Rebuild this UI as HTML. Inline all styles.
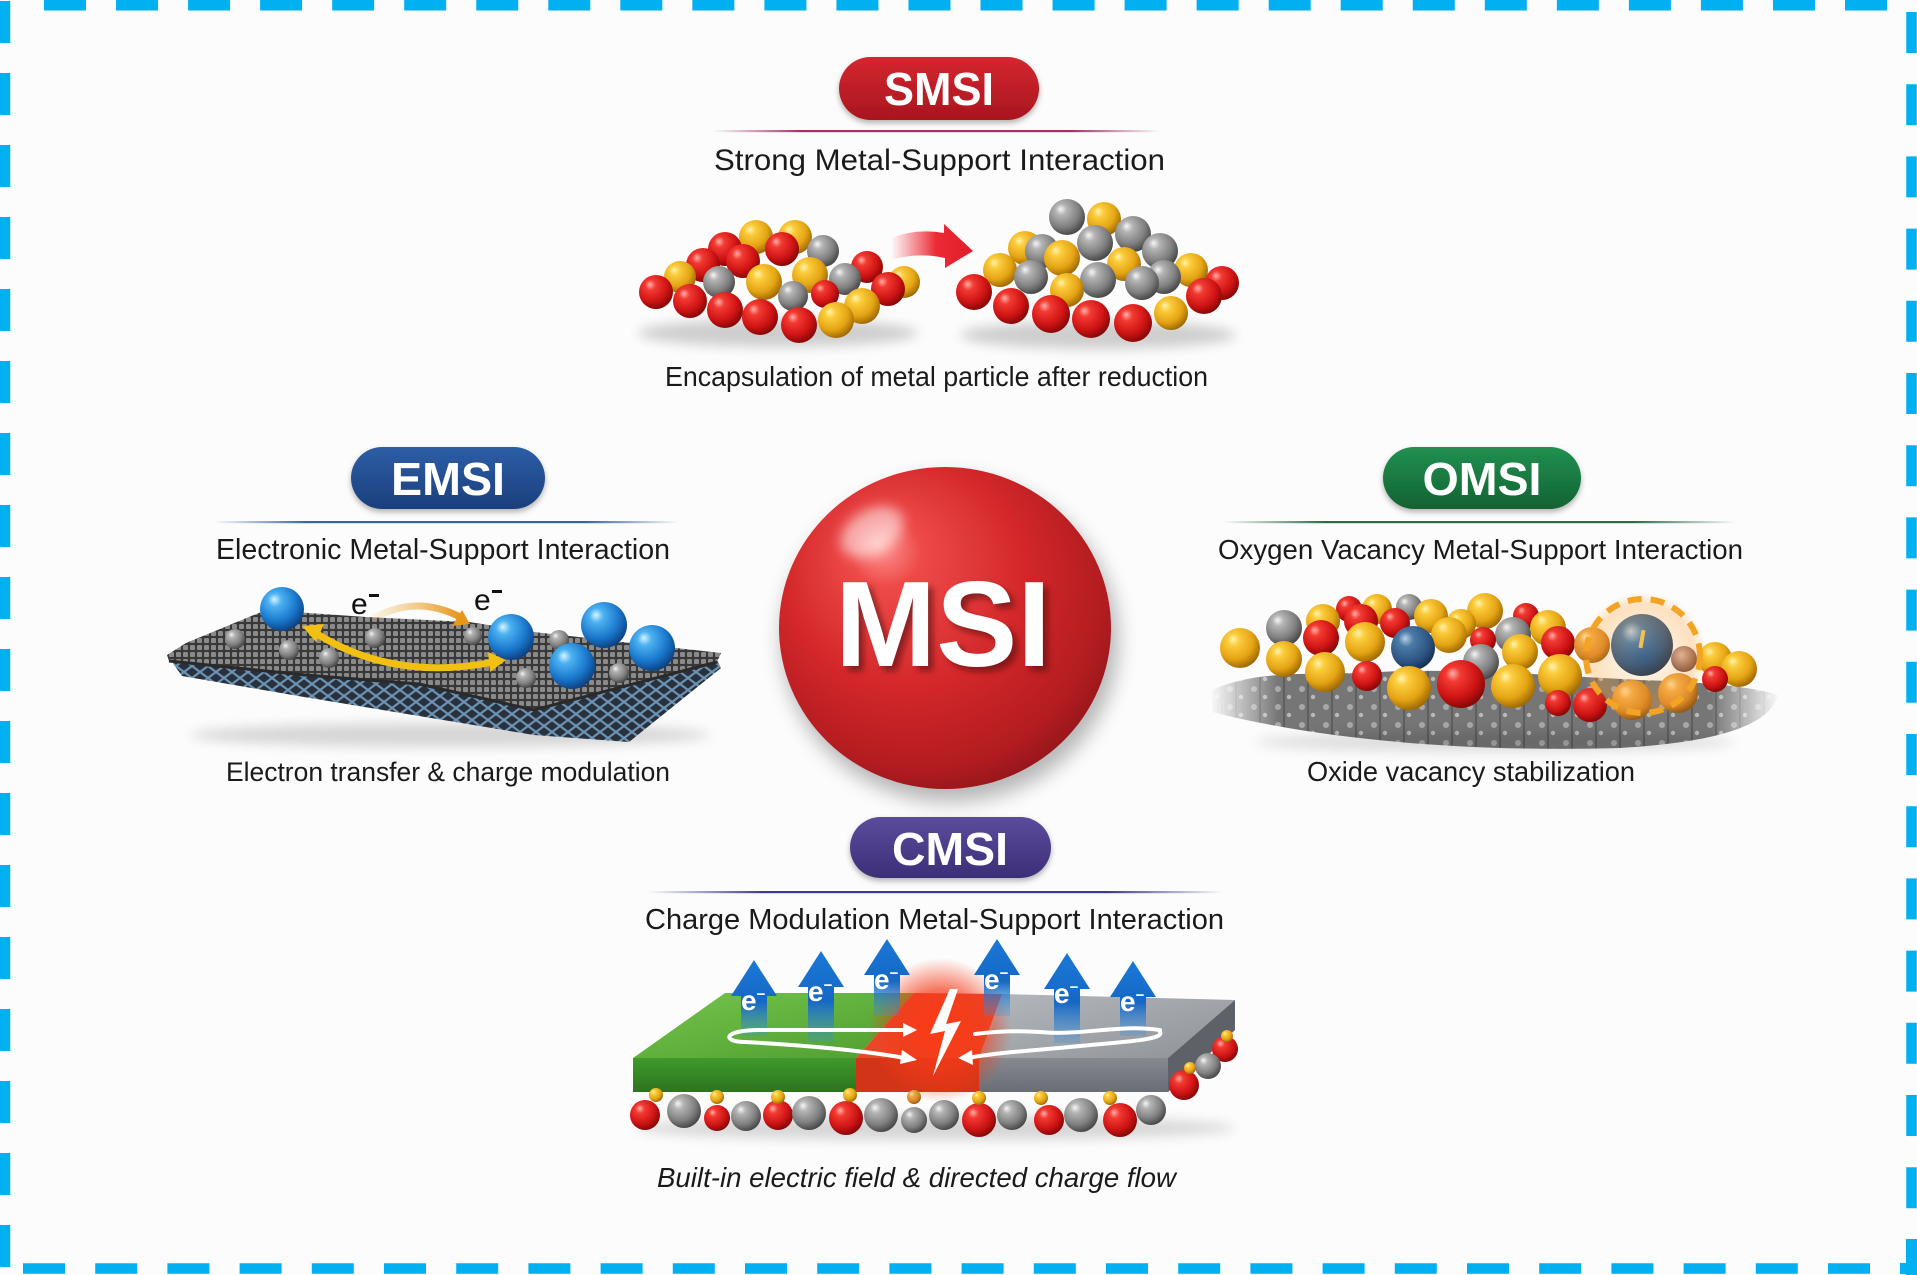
<!DOCTYPE html>
<html><head><meta charset="utf-8">
<style>
html,body{margin:0;padding:0;background:#fcfcfc;width:1917px;height:1275px;overflow:hidden}
svg{display:block}
text{font-family:"Liberation Sans",Arial,sans-serif}
</style></head><body>
<svg width="1917" height="1275" viewBox="0 0 1917 1275" xmlns="http://www.w3.org/2000/svg">
<defs>
<radialGradient id="gR" cx="0.4" cy="0.35" r="0.7" fx="0.32" fy="0.28"><stop offset="0" stop-color="#ffb0a8"/><stop offset="0.22" stop-color="#f23a32"/><stop offset="0.65" stop-color="#cf1414"/><stop offset="1" stop-color="#7a0505"/></radialGradient>
<radialGradient id="gG" cx="0.4" cy="0.35" r="0.7" fx="0.32" fy="0.28"><stop offset="0" stop-color="#fff3b0"/><stop offset="0.22" stop-color="#fbcc3c"/><stop offset="0.65" stop-color="#e4a414"/><stop offset="1" stop-color="#946000"/></radialGradient>
<radialGradient id="gS" cx="0.4" cy="0.35" r="0.7" fx="0.32" fy="0.28"><stop offset="0" stop-color="#f6f6f6"/><stop offset="0.22" stop-color="#b4b4b4"/><stop offset="0.65" stop-color="#808080"/><stop offset="1" stop-color="#3e3e3e"/></radialGradient>
<radialGradient id="gB" cx="0.4" cy="0.35" r="0.7" fx="0.32" fy="0.28"><stop offset="0" stop-color="#d8f4ff"/><stop offset="0.22" stop-color="#4cb2f2"/><stop offset="0.65" stop-color="#1a78cc"/><stop offset="1" stop-color="#0a3a78"/></radialGradient>
<radialGradient id="gN" cx="0.4" cy="0.35" r="0.7" fx="0.32" fy="0.28"><stop offset="0" stop-color="#b8d0e8"/><stop offset="0.25" stop-color="#4c7aa8"/><stop offset="0.7" stop-color="#2c5482"/><stop offset="1" stop-color="#142a48"/></radialGradient>
<radialGradient id="gO" cx="0.4" cy="0.35" r="0.7" fx="0.32" fy="0.28"><stop offset="0" stop-color="#ffe2a8"/><stop offset="0.25" stop-color="#f0aa48"/><stop offset="0.7" stop-color="#d48424"/><stop offset="1" stop-color="#8a5010"/></radialGradient>
<radialGradient id="gBr" cx="0.4" cy="0.35" r="0.7"><stop offset="0" stop-color="#d8b8b0"/><stop offset="0.6" stop-color="#946c68"/><stop offset="1" stop-color="#5a3c3a"/></radialGradient>
<radialGradient id="sph" cx="0.44" cy="0.4" r="0.66" fx="0.3" fy="0.24"><stop offset="0" stop-color="#ff9a96"/><stop offset="0.16" stop-color="#ee4a48"/><stop offset="0.55" stop-color="#d3272a"/><stop offset="0.85" stop-color="#b21c20"/><stop offset="1" stop-color="#8a1418"/></radialGradient>
<linearGradient id="pR" x1="0" y1="0" x2="0" y2="1"><stop offset="0" stop-color="#d42630"/><stop offset="1" stop-color="#a8161e"/></linearGradient>
<linearGradient id="pB" x1="0" y1="0" x2="0" y2="1"><stop offset="0" stop-color="#2d5ea6"/><stop offset="1" stop-color="#1b3f7c"/></linearGradient>
<linearGradient id="pG" x1="0" y1="0" x2="0" y2="1"><stop offset="0" stop-color="#219050"/><stop offset="1" stop-color="#136232"/></linearGradient>
<linearGradient id="pP" x1="0" y1="0" x2="0" y2="1"><stop offset="0" stop-color="#5c4c9c"/><stop offset="1" stop-color="#3c2e78"/></linearGradient>
<linearGradient id="lR" x1="0" x2="1"><stop offset="0" stop-color="#a0306a" stop-opacity="0"/><stop offset="0.2" stop-color="#a0306a"/><stop offset="0.8" stop-color="#a0306a"/><stop offset="1" stop-color="#a0306a" stop-opacity="0"/></linearGradient>
<linearGradient id="lB" x1="0" x2="1"><stop offset="0" stop-color="#3a64a0" stop-opacity="0"/><stop offset="0.2" stop-color="#3a64a0"/><stop offset="0.8" stop-color="#3a64a0"/><stop offset="1" stop-color="#3a64a0" stop-opacity="0"/></linearGradient>
<linearGradient id="lG" x1="0" x2="1"><stop offset="0" stop-color="#2e6a48" stop-opacity="0"/><stop offset="0.2" stop-color="#2e6a48"/><stop offset="0.8" stop-color="#2e6a48"/><stop offset="1" stop-color="#2e6a48" stop-opacity="0"/></linearGradient>
<linearGradient id="lP" x1="0" x2="1"><stop offset="0" stop-color="#3a3c92" stop-opacity="0"/><stop offset="0.2" stop-color="#3a3c92"/><stop offset="0.8" stop-color="#3a3c92"/><stop offset="1" stop-color="#3a3c92" stop-opacity="0"/></linearGradient>
<linearGradient id="arrR" x1="0" x2="1"><stop offset="0" stop-color="#f03a44" stop-opacity="0"/><stop offset="0.55" stop-color="#ec2a34"/><stop offset="1" stop-color="#e01e2a"/></linearGradient>
<linearGradient id="arrO" x1="0" x2="1"><stop offset="0" stop-color="#f0b040" stop-opacity="0.1"/><stop offset="1" stop-color="#e8961c"/></linearGradient>
<linearGradient id="blueA" x1="0" y1="0" x2="0" y2="1"><stop offset="0" stop-color="#1a78d8"/><stop offset="0.55" stop-color="#1668c4"/><stop offset="1" stop-color="#3a90e0" stop-opacity="0.25"/></linearGradient>
<linearGradient id="grTop" x1="0" y1="0" x2="1" y2="1"><stop offset="0" stop-color="#74c44c"/><stop offset="1" stop-color="#4f9e30"/></linearGradient>
<linearGradient id="grFr" x1="0" y1="0" x2="0" y2="1"><stop offset="0" stop-color="#3f9a2c"/><stop offset="1" stop-color="#2c741e"/></linearGradient>
<linearGradient id="gyTop" x1="0" y1="0" x2="1" y2="1"><stop offset="0" stop-color="#b4b8bc"/><stop offset="1" stop-color="#8e9398"/></linearGradient>
<linearGradient id="gyFr" x1="0" y1="0" x2="0" y2="1"><stop offset="0" stop-color="#868a90"/><stop offset="1" stop-color="#6a6e74"/></linearGradient>
<radialGradient id="glow" cx="0.5" cy="0.5" r="0.5"><stop offset="0" stop-color="#ff3a14" stop-opacity="0.95"/><stop offset="0.55" stop-color="#f43a18" stop-opacity="0.7"/><stop offset="1" stop-color="#f43a18" stop-opacity="0"/></radialGradient>
<radialGradient id="oglow" cx="0.5" cy="0.5" r="0.5"><stop offset="0" stop-color="#ffb040" stop-opacity="0.05"/><stop offset="0.8" stop-color="#ffa030" stop-opacity="0.3"/><stop offset="1" stop-color="#ffa030" stop-opacity="0"/></radialGradient>
<pattern id="mesh" width="7" height="7" patternUnits="userSpaceOnUse"><rect width="7" height="7" fill="#383838"/><rect x="1" y="1" width="5" height="5" rx="1.3" fill="#8a8a8a"/></pattern>
<pattern id="latt" width="16" height="12" patternUnits="userSpaceOnUse"><rect width="16" height="12" fill="#28313c"/><path d="M0 6 L8 0 L16 6 L8 12 Z" fill="none" stroke="#6c92b4" stroke-width="2.2"/></pattern>
<pattern id="rock" width="24" height="18" patternUnits="userSpaceOnUse"><rect width="24" height="18" fill="#767676"/><circle cx="6" cy="5" r="3" fill="#a8a8a8"/><circle cx="17" cy="13" r="2.2" fill="#b8b8b8"/><rect x="11" y="0" width="2" height="18" fill="#5e5e5e"/></pattern>
<linearGradient id="fadeX" x1="0" x2="1"><stop offset="0" stop-color="#fff" stop-opacity="0"/><stop offset="0.12" stop-color="#fff"/><stop offset="0.88" stop-color="#fff"/><stop offset="1" stop-color="#fff" stop-opacity="0"/></linearGradient>
<mask id="mfade" maskUnits="userSpaceOnUse" x="1200" y="640" width="590" height="120"><rect x="1210" y="640" width="570" height="120" fill="url(#fadeX)"/></mask>
<filter id="b6" x="-30%" y="-80%" width="160%" height="260%"><feGaussianBlur stdDeviation="6"/></filter>
<filter id="b3" x="-20%" y="-20%" width="140%" height="140%"><feGaussianBlur stdDeviation="3"/></filter>
<filter id="b10" x="-30%" y="-30%" width="160%" height="160%"><feGaussianBlur stdDeviation="10"/></filter>
<filter id="ds" x="-10%" y="-20%" width="120%" height="160%"><feDropShadow dx="0" dy="3" stdDeviation="3" flood-color="#000" flood-opacity="0.3"/></filter>
</defs>

<rect width="1917" height="1275" fill="#fcfcfc"/>

<!-- dashed border -->
<g stroke="#00b0f0" stroke-width="10.5" fill="none">
<line x1="44" y1="5.25" x2="1900" y2="5.25" stroke-dasharray="42 30.04"/>
<line x1="5" y1="1" x2="5" y2="1268" stroke-dasharray="42 30"/>
<line x1="1911.5" y1="12" x2="1911.5" y2="1236" stroke-dasharray="41 31.2"/>
<line x1="23" y1="1268.5" x2="1870" y2="1268.5" stroke-dasharray="42 30.2"/>
</g>
<rect x="1906" y="1239" width="11" height="36" fill="#00b0f0"/>
<rect x="1900" y="1263" width="17" height="11" fill="#00b0f0"/>

<!-- ===== SMSI ===== -->
<rect x="839" y="57" width="200" height="63" rx="31.5" fill="url(#pR)" filter="url(#ds)"/>
<text x="939" y="105" font-size="46" font-weight="bold" fill="#fff" text-anchor="middle" textLength="110" lengthAdjust="spacingAndGlyphs">SMSI</text>
<rect x="713" y="130" width="447" height="2.2" fill="url(#lR)"/>
<text x="714" y="170" font-size="30" fill="#1a1a1a" textLength="451" lengthAdjust="spacingAndGlyphs">Strong Metal-Support Interaction</text>

<ellipse cx="778" cy="333" rx="140" ry="14" fill="#000" opacity="0.18" filter="url(#b6)"/>
<ellipse cx="1098" cy="335" rx="138" ry="14" fill="#000" opacity="0.18" filter="url(#b6)"/>
<g>
<circle cx="756" cy="237" r="17" fill="url(#gG)"/>
<circle cx="795" cy="237" r="17" fill="url(#gG)"/>
<circle cx="725" cy="249" r="17" fill="url(#gR)"/>
<circle cx="782" cy="249" r="17" fill="url(#gR)"/>
<circle cx="823" cy="251" r="16" fill="url(#gS)"/>
<circle cx="743" cy="261" r="17" fill="url(#gR)"/>
<circle cx="703" cy="265" r="17" fill="url(#gR)"/>
<circle cx="867" cy="267" r="16" fill="url(#gR)"/>
<circle cx="810" cy="275" r="18" fill="url(#gG)"/>
<circle cx="680" cy="277" r="16" fill="url(#gG)"/>
<circle cx="845" cy="279" r="16" fill="url(#gS)"/>
<circle cx="719" cy="282" r="16" fill="url(#gS)"/>
<circle cx="764" cy="282" r="18" fill="url(#gG)"/>
<circle cx="904" cy="282" r="16" fill="url(#gG)"/>
<circle cx="888" cy="289" r="17" fill="url(#gR)"/>
<circle cx="656" cy="292" r="17" fill="url(#gR)"/>
<circle cx="825" cy="294" r="14" fill="url(#gR)"/>
<circle cx="793" cy="296" r="15" fill="url(#gS)"/>
<circle cx="690" cy="301" r="17" fill="url(#gR)"/>
<circle cx="862" cy="306" r="18" fill="url(#gG)"/>
<circle cx="725" cy="310" r="18" fill="url(#gR)"/>
<circle cx="760" cy="317" r="18" fill="url(#gR)"/>
<circle cx="836" cy="320" r="18" fill="url(#gG)"/>
<circle cx="799" cy="325" r="18" fill="url(#gR)"/>
</g>
<path d="M891,238 Q916,228 944,233 L944,224 L973,251 L945,268 L945,258 Q918,252 891,260 Z" fill="url(#arrR)"/>
<g>
<circle cx="1067" cy="217" r="18" fill="url(#gS)"/>
<circle cx="1104" cy="219" r="17" fill="url(#gG)"/>
<circle cx="1133" cy="234" r="18" fill="url(#gS)"/>
<circle cx="1095" cy="243" r="18" fill="url(#gS)"/>
<circle cx="1025" cy="248" r="17" fill="url(#gG)"/>
<circle cx="1042" cy="251" r="17" fill="url(#gS)"/>
<circle cx="1160" cy="251" r="18" fill="url(#gS)"/>
<circle cx="1062" cy="258" r="18" fill="url(#gG)"/>
<circle cx="1124" cy="264" r="17" fill="url(#gG)"/>
<circle cx="1000" cy="270" r="17" fill="url(#gG)"/>
<circle cx="1191" cy="270" r="17" fill="url(#gG)"/>
<circle cx="1031" cy="277" r="17" fill="url(#gS)"/>
<circle cx="1164" cy="277" r="17" fill="url(#gS)"/>
<circle cx="1098" cy="280" r="18" fill="url(#gS)"/>
<circle cx="1142" cy="283" r="17" fill="url(#gS)"/>
<circle cx="1222" cy="283" r="17" fill="url(#gR)"/>
<circle cx="1067" cy="290" r="17" fill="url(#gG)"/>
<circle cx="974" cy="292" r="18" fill="url(#gR)"/>
<circle cx="1204" cy="296" r="18" fill="url(#gR)"/>
<circle cx="1011" cy="306" r="18" fill="url(#gR)"/>
<circle cx="1171" cy="313" r="17" fill="url(#gG)"/>
<circle cx="1051" cy="314" r="19" fill="url(#gR)"/>
<circle cx="1091" cy="319" r="19" fill="url(#gR)"/>
<circle cx="1133" cy="323" r="19" fill="url(#gR)"/>
</g>
<text x="665" y="386" font-size="28" fill="#1a1a1a" textLength="543" lengthAdjust="spacingAndGlyphs">Encapsulation of metal particle after reduction</text>

<!-- ===== MSI sphere ===== -->
<ellipse cx="950" cy="640" rx="168" ry="162" fill="#000" opacity="0.28" filter="url(#b10)"/>
<ellipse cx="945" cy="628" rx="166" ry="161" fill="url(#sph)"/>
<ellipse cx="872" cy="532" rx="34" ry="22" fill="#fff" opacity="0.55" filter="url(#b6)" transform="rotate(-30 872 532)"/>
<text x="948" y="671" font-size="122" font-weight="bold" fill="#4a0808" opacity="0.55" text-anchor="middle" textLength="216" lengthAdjust="spacingAndGlyphs" filter="url(#b3)">MSI</text>
<text x="943" y="666" font-size="122" font-weight="bold" fill="#fff" text-anchor="middle" textLength="216" lengthAdjust="spacingAndGlyphs">MSI</text>

<!-- ===== EMSI ===== -->
<rect x="351" y="447" width="194" height="62" rx="31" fill="url(#pB)" filter="url(#ds)"/>
<text x="448" y="495" font-size="46" font-weight="bold" fill="#fff" text-anchor="middle" textLength="114" lengthAdjust="spacingAndGlyphs">EMSI</text>
<rect x="214" y="521" width="465" height="2.2" fill="url(#lB)"/>
<text x="216" y="559" font-size="29" fill="#1a1a1a" textLength="454" lengthAdjust="spacingAndGlyphs">Electronic Metal-Support Interaction</text>

<ellipse cx="450" cy="735" rx="260" ry="12" fill="#000" opacity="0.15" filter="url(#b6)"/>
<polygon points="172,662 305,676 419,685 534,710 717,660 721,668 629,742 534,735 304,697 182,676" fill="url(#latt)"/>
<polygon points="167,655 186,643 266,610 366,617 469,622 534,632 721,653 717,662 534,710 419,684 305,675 169,661" fill="url(#mesh)"/>
<polyline points="169,661 305,675 419,684 534,710 717,662" fill="none" stroke="#2a2a2a" stroke-width="3"/>
<g>
<circle cx="235" cy="639" r="10" fill="url(#gS)"/>
<circle cx="289" cy="650" r="10" fill="url(#gS)"/>
<circle cx="375" cy="638" r="10" fill="url(#gS)"/>
<circle cx="329" cy="658" r="10" fill="url(#gS)"/>
<circle cx="473" cy="636" r="9" fill="url(#gS)"/>
<circle cx="559" cy="640" r="10" fill="url(#gS)"/>
<circle cx="526" cy="678" r="10" fill="url(#gS)"/>
<circle cx="619" cy="673" r="10" fill="url(#gS)"/>
<circle cx="282" cy="609" r="22" fill="url(#gB)"/>
<circle cx="604" cy="625" r="23" fill="url(#gB)"/>
<circle cx="511" cy="637" r="23" fill="url(#gB)"/>
<circle cx="652" cy="648" r="23" fill="url(#gB)"/>
<circle cx="572" cy="666" r="23" fill="url(#gB)"/>
</g>
<path d="M372,619 Q416,594 460,617" fill="none" stroke="url(#arrO)" stroke-width="7"/>
<polygon points="470,624 452,626 462,610" fill="#e8961c"/>
<path d="M314,632 Q392,682 494,662" fill="none" stroke="#f2c010" stroke-width="7"/>
<polygon points="302,626 324,624 316,642" fill="#f2c010"/>
<polygon points="506,660 488,652 490,672" fill="#f2c010"/>
<text x="351" y="614" font-size="30" fill="#111">e</text>
<rect x="369" y="594" width="10" height="3" fill="#111"/>
<text x="474" y="610" font-size="30" fill="#111">e</text>
<rect x="492" y="590" width="10" height="3" fill="#111"/>
<text x="226" y="781" font-size="27" fill="#1a1a1a" textLength="444" lengthAdjust="spacingAndGlyphs">Electron transfer &amp; charge modulation</text>

<!-- ===== OMSI ===== -->
<rect x="1383" y="447" width="198" height="62" rx="31" fill="url(#pG)" filter="url(#ds)"/>
<text x="1482" y="495" font-size="46" font-weight="bold" fill="#fff" text-anchor="middle" textLength="119" lengthAdjust="spacingAndGlyphs">OMSI</text>
<rect x="1223" y="521" width="513" height="2.2" fill="url(#lG)"/>
<text x="1218" y="559" font-size="28" fill="#1a1a1a" textLength="525" lengthAdjust="spacingAndGlyphs">Oxygen Vacancy Metal-Support Interaction</text>

<g mask="url(#mfade)">
<path d="M1212,690 C1260,668 1320,676 1380,672 C1460,668 1560,676 1640,680 C1700,682 1750,686 1778,695 C1770,725 1720,742 1620,748 C1480,752 1330,742 1212,712 Z" fill="url(#rock)"/>
</g>
<ellipse cx="1495" cy="742" rx="240" ry="10" fill="#000" opacity="0.12" filter="url(#b6)"/>
<g>
<circle cx="1409" cy="607" r="13" fill="url(#gS)"/>
<circle cx="1349" cy="609" r="13" fill="url(#gR)"/>
<circle cx="1377" cy="609" r="15" fill="url(#gG)"/>
<circle cx="1485" cy="611" r="18" fill="url(#gG)"/>
<circle cx="1431" cy="616" r="17" fill="url(#gG)"/>
<circle cx="1526" cy="616" r="13" fill="url(#gR)"/>
<circle cx="1323" cy="621" r="17" fill="url(#gG)"/>
<circle cx="1361" cy="621" r="17" fill="url(#gR)"/>
<circle cx="1395" cy="623" r="15" fill="url(#gR)"/>
<circle cx="1461" cy="624" r="15" fill="url(#gG)"/>
<circle cx="1284" cy="628" r="18" fill="url(#gS)"/>
<circle cx="1548" cy="628" r="18" fill="url(#gG)"/>
<circle cx="1513" cy="635" r="18" fill="url(#gS)"/>
<circle cx="1449" cy="635" r="18" fill="url(#gG)"/>
<circle cx="1321" cy="638" r="18" fill="url(#gR)"/>
<circle cx="1483" cy="640" r="13" fill="url(#gR)"/>
<circle cx="1365" cy="642" r="20" fill="url(#gG)"/>
<circle cx="1558" cy="643" r="17" fill="url(#gR)"/>
<circle cx="1592" cy="645" r="18" fill="url(#gO)"/>
<circle cx="1240" cy="648" r="20" fill="url(#gG)"/>
<circle cx="1413" cy="648" r="22" fill="url(#gN)"/>
<circle cx="1520" cy="652" r="18" fill="url(#gG)"/>
<circle cx="1684" cy="659" r="13" fill="url(#gBr)"/>
<circle cx="1715" cy="659" r="17" fill="url(#gG)"/>
<circle cx="1284" cy="659" r="18" fill="url(#gG)"/>
<circle cx="1481" cy="662" r="18" fill="url(#gS)"/>
<circle cx="1739" cy="669" r="18" fill="url(#gG)"/>
<circle cx="1642" cy="645" r="31" fill="url(#gN)"/>
<circle cx="1325" cy="672" r="20" fill="url(#gG)"/>
<circle cx="1367" cy="676" r="15" fill="url(#gR)"/>
<circle cx="1560" cy="676" r="22" fill="url(#gG)"/>
<circle cx="1715" cy="679" r="13" fill="url(#gR)"/>
<circle cx="1461" cy="684" r="24" fill="url(#gR)"/>
<circle cx="1513" cy="686" r="22" fill="url(#gG)"/>
<circle cx="1409" cy="688" r="22" fill="url(#gG)"/>
<circle cx="1678" cy="693" r="20" fill="url(#gO)"/>
<circle cx="1632" cy="700" r="20" fill="url(#gO)"/>
<circle cx="1558" cy="703" r="13" fill="url(#gR)"/>
<circle cx="1590" cy="705" r="17" fill="url(#gR)"/>
</g>
<circle cx="1643" cy="656" r="64" fill="url(#oglow)"/>
<circle cx="1643" cy="656" r="57" fill="none" stroke="#f4a424" stroke-width="6" stroke-dasharray="14 9"/>
<rect x="1640" y="630" width="4" height="18" fill="#f4c050" transform="rotate(10 1642 639)"/>
<text x="1307" y="781" font-size="28" fill="#1a1a1a" textLength="328" lengthAdjust="spacingAndGlyphs">Oxide vacancy stabilization</text>

<!-- ===== CMSI ===== -->
<rect x="850" y="817" width="201" height="61" rx="30.5" fill="url(#pP)" filter="url(#ds)"/>
<text x="950" y="865" font-size="46" font-weight="bold" fill="#fff" text-anchor="middle" textLength="116" lengthAdjust="spacingAndGlyphs">CMSI</text>
<rect x="648" y="891" width="575" height="2.2" fill="url(#lP)"/>
<text x="645" y="929" font-size="29" fill="#1a1a1a" textLength="579" lengthAdjust="spacingAndGlyphs">Charge Modulation Metal-Support Interaction</text>

<ellipse cx="935" cy="1128" rx="300" ry="12" fill="#000" opacity="0.15" filter="url(#b6)"/>
<!-- slab -->
<polygon points="633,1058 725,993 914,993 856,1058" fill="url(#grTop)"/>
<polygon points="856,1058 914,993 1002,994 979,1058" fill="#e8482a"/>
<polygon points="979,1058 1002,994 1235,1000 1168,1058" fill="url(#gyTop)"/>
<rect x="633" y="1058" width="223" height="34" fill="url(#grFr)"/>
<rect x="856" y="1058" width="123" height="34" fill="#d23418"/>
<rect x="979" y="1058" width="189" height="34" fill="url(#gyFr)"/>
<polygon points="1168,1058 1235,1000 1235,1030 1168,1092" fill="#5e6268"/>
<circle cx="940" cy="1030" r="72" fill="url(#glow)"/>
<!-- balls under slab -->
<g>
<circle cx="1225" cy="1049" r="13" fill="url(#gR)"/>
<circle cx="1227" cy="1036" r="6" fill="url(#gG)"/>
<circle cx="1208" cy="1066" r="13" fill="url(#gS)"/>
<circle cx="1184" cy="1085" r="15" fill="url(#gR)"/>
<circle cx="1190" cy="1068" r="6" fill="url(#gG)"/>
<circle cx="645" cy="1115" r="15" fill="url(#gR)"/>
<circle cx="684" cy="1111" r="17" fill="url(#gS)"/>
<circle cx="717" cy="1118" r="13" fill="url(#gR)"/>
<circle cx="746" cy="1116" r="15" fill="url(#gS)"/>
<circle cx="778" cy="1115" r="15" fill="url(#gR)"/>
<circle cx="809" cy="1113" r="17" fill="url(#gS)"/>
<circle cx="846" cy="1118" r="17" fill="url(#gR)"/>
<circle cx="881" cy="1115" r="17" fill="url(#gS)"/>
<circle cx="914" cy="1120" r="13" fill="url(#gS)"/>
<circle cx="944" cy="1115" r="15" fill="url(#gS)"/>
<circle cx="979" cy="1120" r="17" fill="url(#gR)"/>
<circle cx="1012" cy="1115" r="15" fill="url(#gS)"/>
<circle cx="1049" cy="1120" r="15" fill="url(#gR)"/>
<circle cx="1081" cy="1115" r="17" fill="url(#gS)"/>
<circle cx="1120" cy="1120" r="17" fill="url(#gR)"/>
<circle cx="1151" cy="1110" r="15" fill="url(#gS)"/>
<circle cx="656" cy="1095" r="7" fill="url(#gG)"/>
<circle cx="717" cy="1097" r="7" fill="url(#gG)"/>
<circle cx="778" cy="1097" r="7" fill="url(#gG)"/>
<circle cx="850" cy="1095" r="7" fill="url(#gG)"/>
<circle cx="914" cy="1097" r="7" fill="url(#gO)"/>
<circle cx="979" cy="1098" r="7" fill="url(#gG)"/>
<circle cx="1041" cy="1098" r="7" fill="url(#gG)"/>
<circle cx="1110" cy="1098" r="7" fill="url(#gG)"/>
</g>
<!-- blue arrows -->
<g fill="url(#blueA)">
<polygon points="754,960 777,996 767,996 767,1036 741,1036 741,996 731,996"/>
<polygon points="821,951 844,987 834,987 834,1042 808,1042 808,987 798,987"/>
<polygon points="887,939 910,975 900,975 900,1016 874,1016 874,975 864,975"/>
<polygon points="997,939 1020,975 1010,975 1010,1016 984,1016 984,975 974,975"/>
<polygon points="1067,953 1090,989 1080,989 1080,1043 1054,1043 1054,989 1044,989"/>
<polygon points="1133,961 1156,997 1146,997 1146,1036 1120,1036 1120,997 1110,997"/>
</g>
<g font-size="28" font-weight="bold" fill="#fff">
<text x="741" y="1010">e<tspan font-size="15" dy="-11">−</tspan></text>
<text x="808" y="1001">e<tspan font-size="15" dy="-11">−</tspan></text>
<text x="874" y="989">e<tspan font-size="15" dy="-11">−</tspan></text>
<text x="984" y="989">e<tspan font-size="15" dy="-11">−</tspan></text>
<text x="1054" y="1003">e<tspan font-size="15" dy="-11">−</tspan></text>
<text x="1120" y="1011">e<tspan font-size="15" dy="-11">−</tspan></text>
</g>
<!-- flow lines -->
<g fill="none" stroke="#fff" stroke-width="4" stroke-linecap="round">
<path d="M905,1030 L760,1030 C722,1030 722,1042 745,1042 C800,1045 860,1050 905,1058"/>
<path d="M1160,1030 C1120,1024 1080,1036 1040,1032 C1010,1030 990,1032 975,1034"/>
<path d="M1160,1032 C1165,1040 1120,1042 1080,1046 C1040,1050 1000,1052 968,1058"/>
</g>
<g fill="#fff">
<polygon points="917,1030 903,1023 903,1037"/>
<polygon points="917,1060 902,1050 900,1064"/>
<polygon points="958,1058 972,1050 973,1065"/>
</g>
<polygon points="950,989 930,1034 945,1031 933,1076 961,1021 946,1024 958,989" fill="#fff"/>
<text x="657" y="1187" font-size="28" font-style="italic" fill="#1a1a1a" textLength="519" lengthAdjust="spacingAndGlyphs">Built-in electric field &amp; directed charge flow</text>
</svg>
</body></html>
